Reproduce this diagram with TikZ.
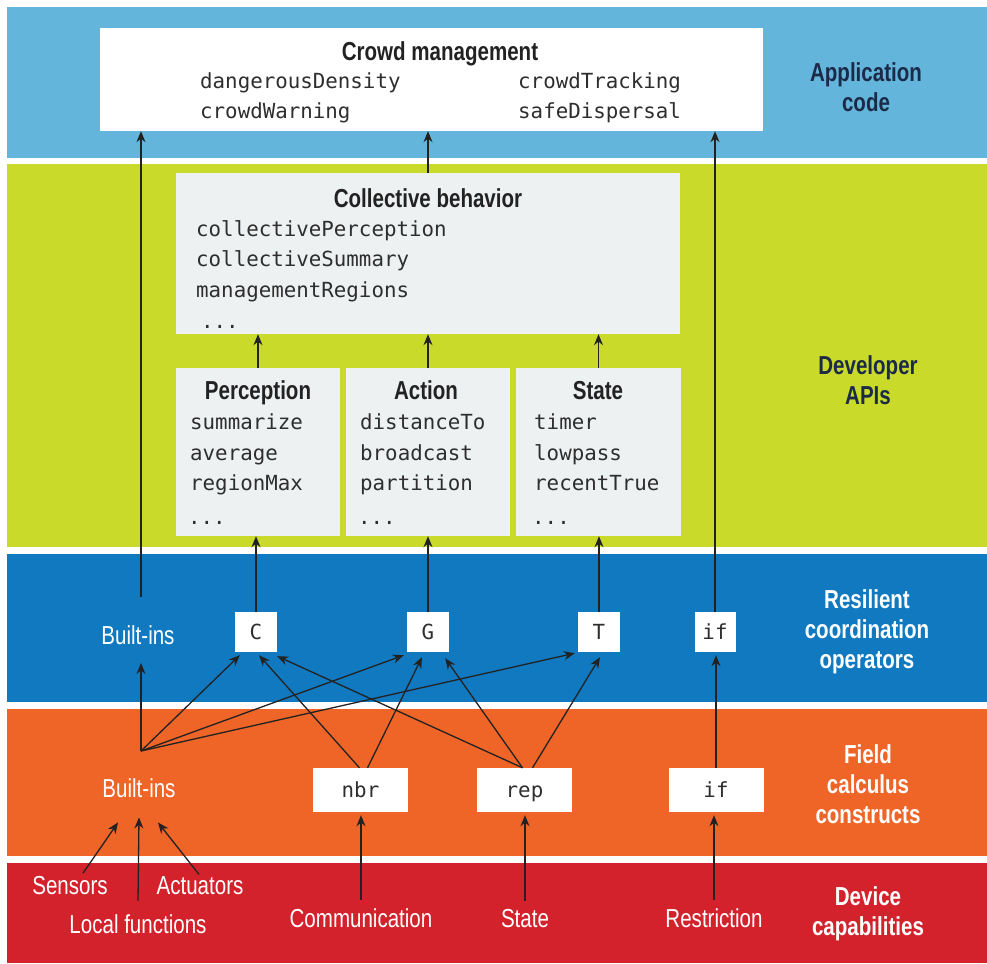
\documentclass[tikz,border=0pt]{standalone}
\usepackage{fontspec}
\usetikzlibrary{arrows.meta,calc}
\newfontfamily\cond[FakeStretch=0.79]{Liberation Sans}
\newfontfamily\monof{DejaVu Sans Mono}
\definecolor{appblue}{HTML}{64B5DB}
\definecolor{devgreen}{HTML}{C9DA2B}
\definecolor{resblue}{HTML}{1079BF}
\definecolor{fieldorange}{HTML}{EF6528}
\definecolor{devred}{HTML}{D3222B}
\definecolor{boxgray}{HTML}{EDF1F1}
\definecolor{navy}{HTML}{1B2A47}
\definecolor{ink}{HTML}{222222}
\definecolor{codeink}{HTML}{2E2E2E}
\begin{document}
\begin{tikzpicture}[x=1pt,y=-1pt,
  wbox/.style={fill=white, inner sep=0pt},
  gbox/.style={fill=boxgray, inner sep=0pt},
  opbox/.style={fill=white, inner sep=0pt, minimum width=42pt, minimum height=40pt, text height=15pt, text depth=0pt, font=\monof\fontsize{20.8}{20.8}\selectfont, text=codeink},
  fcbox/.style={fill=white, inner sep=0pt, minimum width=95pt, minimum height=44pt, text height=15pt, text depth=0pt, font=\monof\fontsize{20.8}{20.8}\selectfont, text=codeink},
  title/.style={font=\cond\bfseries\fontsize{26}{26}\selectfont, text=ink, inner sep=0pt, anchor=base},
  code/.style={font=\monof\fontsize{20.8}{20.8}\selectfont, text=codeink, anchor=base west, inner sep=0pt},
  layer/.style={font=\cond\bfseries\fontsize{26}{30}\selectfont, align=center, text=navy, inner sep=0pt},
  wlayer/.style={layer, text=white},
  lbl/.style={font=\cond\fontsize{26}{26}\selectfont, text=white, inner sep=0pt, anchor=base},
  arr/.style={-{Stealth[length=11pt,width=9pt]}, line width=1.3pt, draw=ink},
]
\useasboundingbox (0,0) rectangle (987,963);
% bands
\fill[appblue] (7,7) rectangle (987,158);
\fill[devgreen] (7,164) rectangle (987,547);
\fill[resblue] (7,554) rectangle (987,702);
\fill[fieldorange] (7,709) rectangle (987,856);
\fill[devred] (7,863) rectangle (987,963);

% layer labels
\node[layer] (appL) at (866,87) {Application\\code};
\node[layer] (devL) at (868,380) {Developer\\APIs};
\node[wlayer] (resL) at (867,632) {Resilient\\coordination\\operators};
\node[wlayer] (fieldL) at (868,784) {Field\\calculus\\constructs};
\node[wlayer] (capL) at (868,914) {Device\\capabilities};

% application box
\node[wbox, minimum width=663pt, minimum height=103pt] (crowd) at (431.5,79.5) {};
\node[title] (crowdT) at (440,61) {Crowd management};
\node[code] (cm1) at (200,89) {dangerousDensity};
\node[code] (cm2) at (200,118) {crowdWarning};
\node[code] (cm3) at (518,89) {crowdTracking};
\node[code] (cm4) at (518,118) {safeDispersal};

% collective behavior
\node[gbox, minimum width=504pt, minimum height=161pt] (coll) at (428,253.5) {};
\node[title] (collT) at (428,207) {Collective behavior};
\node[code] (cb1) at (196,236) {collectivePerception};
\node[code] (cb2) at (196,266) {collectiveSummary};
\node[code] (cb3) at (196,297) {managementRegions};
\node[code] (cb4) at (201,328) {...};

% perception / action / state
\node[gbox, minimum width=164pt, minimum height=168pt] (perc) at (258,452) {};
\node[gbox, minimum width=164pt, minimum height=168pt] (act) at (428,452) {};
\node[gbox, minimum width=165pt, minimum height=168pt] (stat) at (598.5,452) {};
\node[title] (percT) at (258,399) {Perception};
\node[title] (actT) at (426,399) {Action};
\node[title] (statT) at (598,399) {State};
\node[code] (p1) at (190,429) {summarize};
\node[code] (p2) at (190,460) {average};
\node[code] (p3) at (190,490) {regionMax};
\node[code] (p4) at (188,524) {...};
\node[code] (a1) at (360,429) {distanceTo};
\node[code] (a2) at (360,460) {broadcast};
\node[code] (a3) at (360,490) {partition};
\node[code] (a4) at (358,524) {...};
\node[code] (s1) at (534,429) {timer};
\node[code] (s2) at (534,460) {lowpass};
\node[code] (s3) at (534,490) {recentTrue};
\node[code] (s4) at (532,524) {...};

% resilient coordination operators
\node[lbl] (bi1) at (138,644) {Built-ins};
\node[opbox] (C) at (256,632) {C};
\node[opbox] (G) at (428,632) {G};
\node[opbox] (T) at (599,632) {T};
\node[opbox, minimum width=41pt] (ifB) at (715,632) {if};

% field calculus constructs
\node[lbl] (bi2) at (139,797) {Built-ins};
\node[fcbox] (nbr) at (360.5,790) {nbr};
\node[fcbox] (rep) at (524.5,790) {rep};
\node[fcbox] (ifO) at (716,790) {if};

% device capabilities
\node[lbl] (sens) at (70,894.5) {Sensors};
\node[lbl] (act2) at (200,894.5) {Actuators};
\node[lbl] (locf) at (138,933) {Local functions};
\node[lbl] (comm) at (361,927) {Communication};
\node[lbl] (stt) at (525,927) {State};
\node[lbl] (restr) at (714,927) {Restriction};

% vertical arrows into application
\draw[arr] (coll.north) -- (coll.north |- crowd.south);
\coordinate (bi1top) at (141,597);
\draw[arr] (bi1top) -- (bi1top |- crowd.south);
\draw[arr] (ifB.north) -- (ifB.north |- crowd.south);
% developer APIs
\draw[arr] (perc.north) -- (perc.north |- coll.south);
\draw[arr] (act.north) -- (act.north |- coll.south);
\draw[arr] (stat.north) -- (stat.north |- coll.south);
\draw[arr] (C.north) -- (C.north |- perc.south);
\draw[arr] (G.north) -- (G.north |- act.south);
\draw[arr] (T.north) -- (T.north |- stat.south);

% built-ins hub
\coordinate (hub) at (141,751);
\draw[arr] (hub) -- (141,663);
\draw[arr] (hub) -- ($(C.south west)+(5,3)$);
\draw[arr] (hub) -- ($(G.south west)+(-3,3)$);
\draw[arr] (hub) -- ($(T.south west)+(-3,1)$);
% nbr
\draw[arr] ($(nbr.north)+(-1,0)$) -- ($(C.south)+(3,3)$);
\draw[arr] ($(nbr.north)+(7,0)$) -- ($(G.south)+(-6,5)$);
% rep
\draw[arr] ($(rep.north)+(-2,0)$) -- ($(C.south east)+(0,4)$);
\draw[arr] ($(rep.north)+(-2,0)$) -- ($(G.south east)+(-4,6)$);
\draw[arr] ($(rep.north)+(8,0)$) -- ($(T.south)+(1,5)$);
% if
\draw[arr, shorten >=3pt] (ifO.north) -- (ifO.north |- ifB.south);

% device capabilities arrows
\draw[arr] ($(sens.north)+(13,-3)$) -- ($(bi2.south)+(-21,25)$);
\draw[arr] ($(locf.north)+(0,-13)$) -- ($(bi2.south)+(0,20)$);
\draw[arr] ($(act2.north)+(-1,-2)$) -- ($(bi2.south)+(19,25)$);
\draw[arr, shorten <=8pt, shorten >=3pt] (comm.north) -- (comm.north |- nbr.south);
\draw[arr, shorten <=8pt, shorten >=3pt] (stt.north) -- (stt.north |- rep.south);
\draw[arr, shorten <=8pt, shorten >=3pt] (restr.north) -- (restr.north |- ifO.south);
\end{tikzpicture}
\end{document}
